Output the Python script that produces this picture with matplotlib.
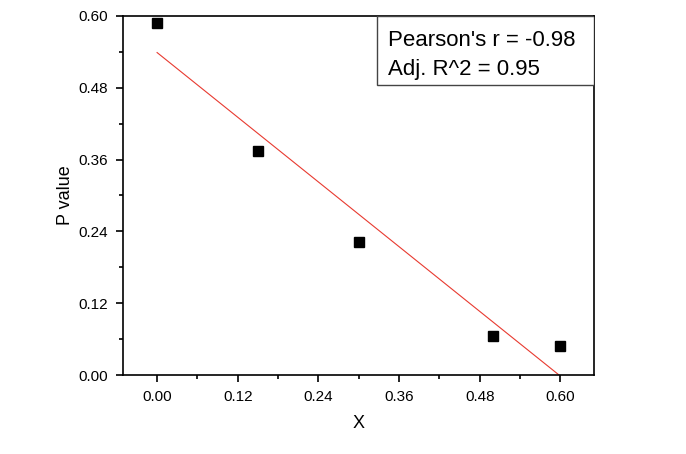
import numpy as np
import matplotlib.pyplot as plt
from matplotlib.patches import Rectangle

plt.rcParams['font.family'] = ['Liberation Sans', 'DejaVu Sans']

x_vals = [0.00, 0.15, 0.30, 0.50, 0.60]
p_vals = [0.588, 0.374, 0.222, 0.065, 0.048]
xticks = [0.00, 0.12, 0.24, 0.36, 0.48, 0.60]
yticks = [0.00, 0.12, 0.24, 0.36, 0.48, 0.60]

slope, intercept = np.polyfit(x_vals, p_vals, 1)
fit_x = np.array([0.0, 0.6])
fit_y = slope * fit_x + intercept

fig = plt.figure(figsize=(6.86, 4.54), dpi=100)
ax = fig.add_axes([0.179, 0.174, 0.687, 0.791])

ax.plot(fit_x, fit_y, color='#e83a30', lw=0.8, zorder=2)
ax.plot(x_vals, p_vals, 's', color='black', ms=6.5, zorder=3)

ax.set_xlim(-0.051, 0.65)
ax.set_ylim(0, 0.6)
ax.set_xticks(xticks)
ax.set_yticks(yticks)
ax.set_xticklabels(['%.2f' % v for v in xticks])
ax.set_yticklabels(['%.2f' % v for v in yticks])
ax.set_xticks([0.06, 0.18, 0.30, 0.42, 0.54], minor=True)
ax.set_yticks([0.06, 0.18, 0.30, 0.42, 0.54], minor=True)
ax.tick_params(which='major', direction='out', length=5, width=1.2, labelsize=11, pad=6)
ax.tick_params(which='minor', direction='out', length=3, width=1.2)
for s in ax.spines.values():
    s.set_linewidth(1.2)

ax.set_xlabel('X', fontsize=13, labelpad=8)
ax.set_ylabel('P value', fontsize=13, labelpad=3)

ax.add_patch(Rectangle((0.539, 0.808), 0.461, 0.192, transform=ax.transAxes,
                       facecolor='white', edgecolor='#444444', lw=1.0, zorder=4))
ax.text(0.562, 0.915, "Pearson's r = -0.98", transform=ax.transAxes,
        fontsize=16, va='baseline', zorder=5)
ax.text(0.562, 0.835, "Adj. R^2 = 0.95", transform=ax.transAxes,
        fontsize=16, va='baseline', zorder=5)

fig.savefig('out.png', dpi=100)
